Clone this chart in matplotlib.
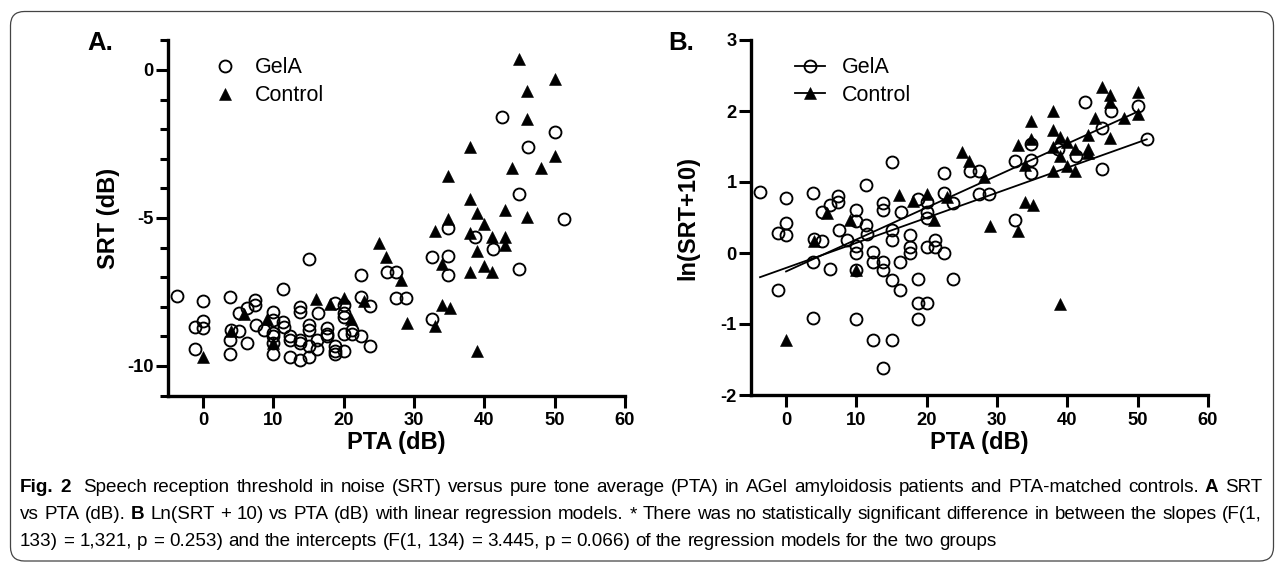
import matplotlib
matplotlib.use("Agg")
import matplotlib.pyplot as plt
from matplotlib.patches import FancyBboxPatch
from matplotlib.transforms import IdentityTransform
from matplotlib.lines import Line2D
from matplotlib import font_manager

# ---------------- data ----------------
# Panel A: SRT (dB) vs PTA (dB)
gela_pta_a = [-3.7, 0, 0, 0, -1.2, -1.2, 3.8, 3.8, 3.8, 4.0, 5.1, 5.1, 6.3, 6.3,
              7.4, 7.4, 7.6, 8.6, 10, 10, 10, 10, 10, 10, 11.3, 11.4, 11.5, 12.4,
              12.4, 12.4, 13.75, 13.75, 13.75, 13.75, 13.75, 15, 15, 15, 15, 15,
              16.3, 16.2, 16.2, 17.6, 17.6, 17.6, 18.8, 18.8, 18.8, 18.8, 20, 20,
              20, 20, 20, 21.2, 21.2, 22.5, 22.5, 22.5, 23.8, 23.8, 26.2, 27.5,
              27.5, 28.8, 32.5, 32.5, 34.9, 34.9, 34.9, 38.7, 41.3, 42.5, 45, 45,
              46.2, 50.1, 51.3]
gela_srt_a = [-7.64, -7.82, -8.48, -8.72, -8.68, -9.41, -7.68, -9.11, -9.60, -8.78,
              -8.21, -8.81, -8.03, -9.21, -7.77, -7.95, -8.61, -8.79, -8.18, -8.43,
              -8.89, -9.0, -9.21, -9.61, -7.39, -8.51, -8.69, -8.98, -9.11, -9.70,
              -7.99, -8.18, -9.11, -9.21, -9.80, -6.4, -8.61, -8.8, -9.32, -9.70,
              -8.21, -9.11, -9.41, -8.72, -8.91, -9.0, -7.86, -9.31, -9.51, -9.61,
              -7.95, -8.21, -8.35, -8.91, -9.51, -8.8, -8.91, -6.94, -7.68, -9.0,
              -7.97, -9.31, -6.81, -6.81, -7.71, -7.71, -6.33, -8.42, -6.29, -6.94,
              -5.34, -5.65, -6.06, -1.59, -4.19, -6.71, -2.61, -2.08, -5.05]
ctrl_pta_a = [0, 4.0, 5.8, 9.1, 10, 16.1, 18, 20, 21, 22.9, 25, 26, 28.1, 29, 33,
              33, 34, 34, 35.1, 34.9, 34.9, 38, 38, 38, 38, 39, 39, 39, 40, 40,
              41.1, 41.1, 43, 43, 43, 44, 45, 46.1, 46.1, 46.1, 48.1, 50.1, 50.1]
ctrl_srt_a = [-9.70, -8.81, -8.23, -8.42, -9.21, -7.73, -7.92, -7.71, -8.42, -7.80,
              -5.86, -6.33, -7.08, -8.54, -8.64, -5.43, -6.54, -7.95, -8.03, -5.05,
              -3.58, -2.61, -4.36, -5.52, -6.84, -4.84, -6.10, -9.51, -5.19, -6.61,
              -5.65, -6.81, -4.74, -5.65, -5.90, -3.31, 0.38, -0.70, -1.67, -4.95,
              -3.31, -0.32, -2.90]

# Panel B: ln(SRT+10) vs PTA (dB)
gela_pta_b = [-3.7, 0, 0, 0, -1.2, -1.2, 3.8, 3.8, 3.8, 4.0, 5.1, 5.1, 6.3, 6.3,
              7.4, 7.4, 7.6, 8.6, 10, 10, 10, 10, 10, 10, 11.3, 11.4, 11.5, 12.4,
              12.4, 12.4, 13.75, 13.75, 13.75, 13.75, 13.75, 15, 15, 15, 15, 15,
              16.3, 16.2, 16.2, 17.6, 17.6, 17.6, 18.8, 18.8, 18.8, 18.8, 20, 20,
              20, 20, 20, 21.2, 21.2, 22.5, 22.5, 22.5, 23.8, 23.8, 26.2, 27.5,
              27.5, 28.8, 32.5, 32.5, 34.9, 34.9, 34.9, 38.7, 41.3, 42.5, 45, 45,
              46.2, 50.1, 51.3]
gela_ln_b = [0.86, 0.78, 0.42, 0.25, 0.28, -0.52, 0.84, -0.12, -0.92, 0.20,
             0.58, 0.17, 0.68, -0.23, 0.80, 0.72, 0.33, 0.19, 0.60, 0.45,
             0.10, 0.00, -0.24, -0.93, 0.96, 0.40, 0.27, 0.02, -0.12, -1.22,
             0.70, 0.60, -0.12, -0.24, -1.62, 1.28, 0.33, 0.18, -0.38, -1.22,
             0.58, -0.12, -0.52, 0.25, 0.09, 0.00, 0.76, -0.37, -0.71, -0.93,
             0.72, 0.58, 0.50, 0.09, -0.71, 0.18, 0.09, 1.12, 0.84, 0.00,
             0.71, -0.37, 1.16, 1.16, 0.83, 0.83, 1.30, 0.46, 1.31, 1.12,
             1.54, 1.47, 1.37, 2.13, 1.76, 1.19, 2.00, 2.07, 1.60]
ctrl_pta_b = [0, 4.0, 5.8, 9.1, 10, 16.1, 18, 20, 21, 22.9, 25, 26, 28.1, 29, 33,
              33, 34, 34, 35.1, 34.9, 34.9, 38, 38, 38, 38, 39, 39, 39, 40, 40,
              41.1, 41.1, 43, 43, 43, 44, 45, 46.1, 46.1, 46.1, 48.1, 50.1, 50.1]
ctrl_ln_b = [-1.22, 0.17, 0.57, 0.46, -0.24, 0.82, 0.73, 0.83, 0.46, 0.79,
             1.42, 1.30, 1.07, 0.38, 0.31, 1.52, 1.24, 0.72, 0.68, 1.60,
             1.86, 2.00, 1.73, 1.50, 1.15, 1.64, 1.36, -0.72, 1.57, 1.22,
             1.47, 1.16, 1.66, 1.47, 1.41, 1.90, 2.34, 2.23, 2.12, 1.62,
             1.90, 2.27, 1.96]

# regression models: (slope, intercept)
gela_fit = (0.0353, -0.21)
ctrl_fit = (0.0450, -0.26)

x_ticks = [0, 10, 20, 30, 40, 50, 60]
a_yticks = [0, -5, -10]
a_yminor = list(range(-11, 2))
b_yticks = [-2, -1, 0, 1, 2, 3]
series_labels = ["GelA", "Control"]

# ---------------- figure ----------------
plt.rcParams['font.family'] = ['Liberation Sans', 'DejaVu Sans']
plt.rcParams['axes.unicode_minus'] = False

available = {f.name for f in font_manager.fontManager.ttflist}
cap_family = ['Liberation Sans Narrow', 'Liberation Sans'] if 'Liberation Sans Narrow' in available \
    else ['Liberation Sans', 'DejaVu Sans']

W, H = 1282, 563
fig = plt.figure(figsize=(W / 100, H / 100), dpi=100)
fig.patch.set_facecolor('white')

axA = fig.add_axes([167.9 / W, 1 - 395.6 / H, 457.0 / W, 355.2 / H])
axB = fig.add_axes([750.9 / W, 1 - 395.0 / H, 457.0 / W, 355.0 / H])

circ_kw = dict(marker='o', ms=8.6, mfc='none', mec='black', mew=1.35, ls='none')
tri_kw = dict(marker='^', ms=9.2, mfc='black', mec='black', mew=0.4, ls='none')

# Panel A
axA.plot(gela_pta_a, gela_srt_a, label=series_labels[0], **circ_kw)
axA.plot(ctrl_pta_a, ctrl_srt_a, label=series_labels[1], **tri_kw)
axA.set_xlim(-5, 60)
axA.set_ylim(-11, 1)
axA.set_xticks(x_ticks)
axA.set_yticks(a_yticks)
axA.set_yticks([v for v in a_yminor if v not in a_yticks], minor=True)

# Panel B
axB.plot(gela_pta_b, gela_ln_b, **circ_kw)
axB.plot(ctrl_pta_b, ctrl_ln_b, **tri_kw)
for (pta, fit) in ((gela_pta_b, gela_fit), (ctrl_pta_b, ctrl_fit)):
    x0, x1 = min(pta), max(pta)
    axB.plot([x0, x1], [fit[1] + fit[0] * x0, fit[1] + fit[0] * x1],
             color='black', lw=1.3)
axB.set_xlim(-5, 60)
axB.set_ylim(-2, 3)
axB.set_xticks(x_ticks)
axB.set_yticks(b_yticks)

for ax in (axA, axB):
    for s in ('top', 'right'):
        ax.spines[s].set_visible(False)
    for s in ('left', 'bottom'):
        ax.spines[s].set_linewidth(2.4)
        ax.spines[s].set_capstyle('projecting')
    ax.tick_params(which='major', length=8.6, width=2.2, labelsize=13.2)
    ax.tick_params(which='minor', length=5.8, width=2.2)
    ax.tick_params(axis='y', pad=1.5)
    ax.tick_params(axis='x', pad=3.5)
    for lab in ax.get_xticklabels() + ax.get_yticklabels():
        lab.set_fontweight('bold')
    ax.set_facecolor('none')

axA.set_xlabel("PTA (dB)", fontsize=17, fontweight='bold')
axA.set_ylabel("SRT (dB)", fontsize=17, fontweight='bold')
axB.set_xlabel("PTA (dB)", fontsize=17, fontweight='bold')
axB.set_ylabel("ln(SRT+10)", fontsize=17, fontweight='bold')
axA.xaxis.set_label_coords(0.5, -0.10)
axB.xaxis.set_label_coords(0.5, -0.10)
axA.yaxis.set_label_coords(-0.105, 0.5)
axB.yaxis.set_label_coords(-0.112, 0.5)

# legends
axA.legend(loc='upper left', bbox_to_anchor=(0.101, 0.952), frameon=False,
           fontsize=15.5, handlelength=1.0, handletextpad=0.9,
           labelspacing=0.32, borderpad=0, borderaxespad=0)
handlesB = [Line2D([], [], color='black', lw=1.3, **{k: v for k, v in circ_kw.items() if k != 'ls'}),
            Line2D([], [], color='black', lw=1.3, **{k: v for k, v in tri_kw.items() if k != 'ls'})]
axB.legend(handlesB, series_labels, loc='upper left', bbox_to_anchor=(0.096, 0.952),
           frameon=False, fontsize=15.5, handlelength=1.4, handletextpad=0.78,
           labelspacing=0.32, borderpad=0, borderaxespad=0)

# panel letters
fig.text(87 / W, 1 - 50 / H, "A.", fontsize=18.5, fontweight='bold', va='baseline')
fig.text(668 / W, 1 - 50 / H, "B.", fontsize=18.5, fontweight='bold', va='baseline')

# frame
frame = FancyBboxPatch((10.5, 2.0), 1263.0, 549.5,
                       boxstyle="round,pad=0,rounding_size=14",
                       transform=IdentityTransform(), fill=False,
                       edgecolor='#444444', linewidth=0.9)
fig.add_artist(frame)

# caption: lines of (text, weight); lines 1-2 are justified
caption_lines = [
    [("Fig. 2", 'bold'), ("Speech reception threshold in noise (SRT) versus pure tone average (PTA) in AGel amyloidosis patients and PTA-matched controls.", 'normal'),
     ("A", 'bold'), ("SRT", 'normal')],
    [("vs PTA (dB).", 'normal'), ("B", 'bold'),
     ("Ln(SRT + 10) vs PTA (dB) with linear regression models. * There was no statistically significant difference in between the slopes (F(1,", 'normal')],
    [("133) = 1,321, p = 0.253) and the intercepts (F(1, 134) = 3.445, p = 0.066) of the regression models for the two groups", 'normal')],
]
justify = [True, True, False]
cap_x0 = 20
cap_baselines = [492, 519, 546]
target_w = 1242
renderer = fig.canvas.get_renderer()


def text_w(txt, weight, size):
    t = fig.text(0, 0, txt, fontsize=size, fontweight=weight, family=cap_family,
                 transform=IdentityTransform())
    w = t.get_window_extent(renderer=renderer).width
    t.remove()
    return w


def tokens(segs):
    out = []
    for txt, weight in segs:
        for i, wd in enumerate(txt.split(' ')):
            extra = 1.0 if (wd == "2" and weight == 'bold') else 0.0
            out.append((wd, weight, extra))
    return out


def natural_width(toks, size):
    sp = text_w("a a", 'normal', size) - text_w("aa", 'normal', size)
    ws = [text_w(t, w, size) for t, w, _ in toks]
    gaps = sum(sp * (1 + e) for _, _, e in toks[:-1])
    return sum(ws) + gaps


line_toks = [tokens(s) for s in caption_lines]
base = 10.0
widest = max(natural_width(t, base) for t in line_toks)
cap_size = base * target_w / widest
sp = text_w("a a", 'normal', cap_size) - text_w("aa", 'normal', cap_size)
for toks, yb, jus in zip(line_toks, cap_baselines, justify):
    ws = [text_w(t, w, cap_size) for t, w, _ in toks]
    weights_gap = [1 + e for _, _, e in toks[:-1]]
    if jus:
        extra_total = target_w - sum(ws)
        unit = extra_total / sum(weights_gap)
    else:
        unit = sp
    x = cap_x0
    for i, (t, w, _) in enumerate(toks):
        fig.text(x, H - yb, t, fontsize=cap_size, fontweight=w, family=cap_family,
                 va='baseline', ha='left', transform=IdentityTransform())
        if i < len(weights_gap):
            x += ws[i] + unit * weights_gap[i]

fig.savefig("out.png", dpi=100, facecolor='white')
